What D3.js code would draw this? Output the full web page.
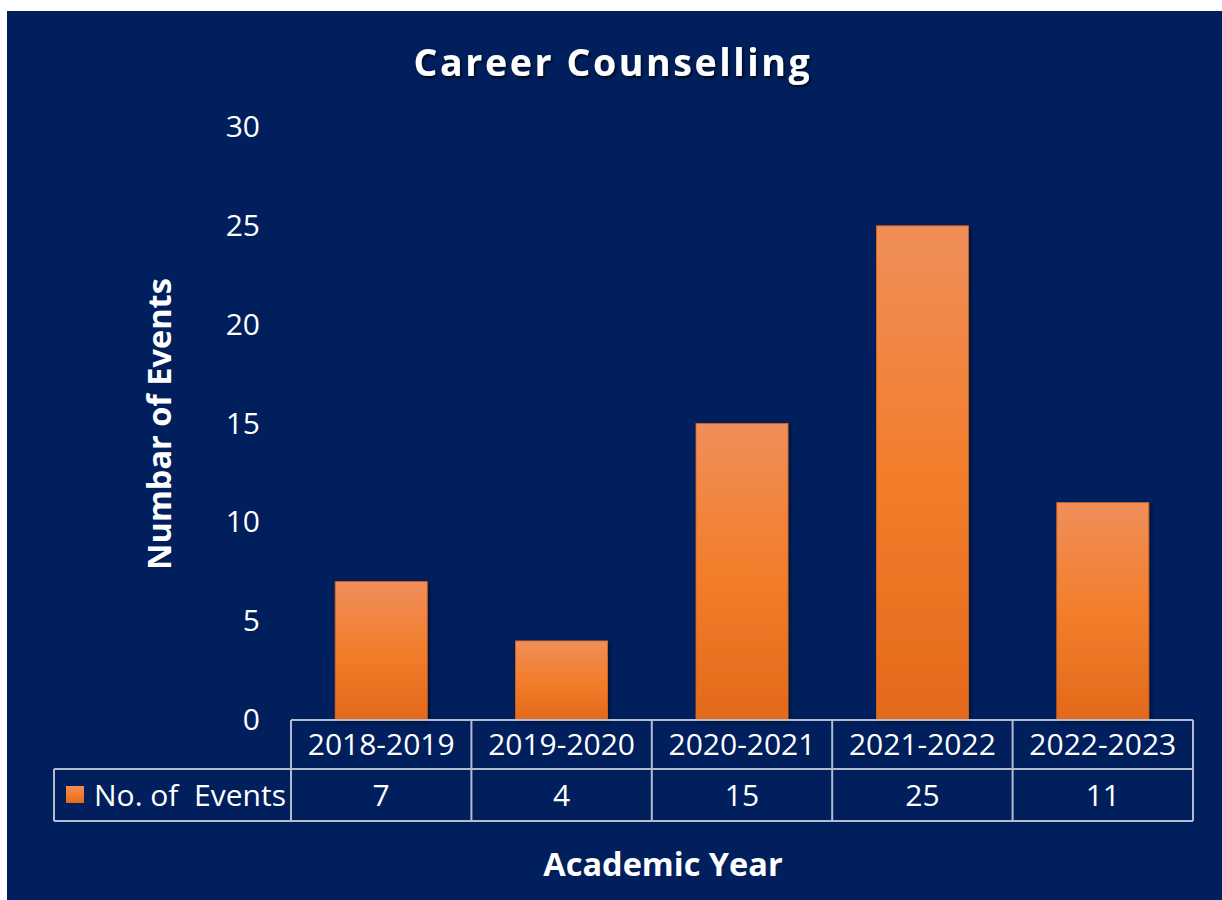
<!DOCTYPE html>
<html>
<head>
<meta charset="utf-8">
<script src="https://cdn.jsdelivr.net/npm/d3@7"></script>
<style>
  html, body { margin: 0; padding: 0; background: #ffffff; }
  svg { display: block; }
  text { font-family: "Open Sans", "Noto Sans", sans-serif; fill: #ffffff; }
</style>
</head>
<body>
<svg id="chart" width="1222" height="900"></svg>
<script>
// ---- data ----
const categories = ["2018-2019", "2019-2020", "2020-2021", "2021-2022", "2022-2023"];
const seriesName = "No. of  Events";
const values = [7, 4, 15, 25, 11];
const yTicks = [0, 5, 10, 15, 20, 25, 30];
const titleText = "Career Counselling";
const yTitle = "Numbar of Events";
const xTitle = "Academic Year";

// ---- layout ----
const svg = d3.select("#chart");
const plot = { left: 291, right: 1193, top: 127, bottom: 720 };
const rowH1 = 49, rowH2 = 52, legendLeft = 54;
const labelSize = 30;

const defs = svg.append("defs");
const grad = defs.append("linearGradient").attr("id", "barGrad")
  .attr("x1", 0).attr("y1", 0).attr("x2", 0).attr("y2", 1);
grad.append("stop").attr("offset", "0%").attr("stop-color", "#F08E5A");
grad.append("stop").attr("offset", "50%").attr("stop-color", "#F27E2C");
grad.append("stop").attr("offset", "100%").attr("stop-color", "#E3691A");

const shadow = defs.append("filter").attr("id", "shadow")
  .attr("x", "-20%").attr("y", "-20%").attr("width", "140%").attr("height", "140%");
shadow.append("feDropShadow").attr("dx", 2).attr("dy", 2).attr("stdDeviation", 2)
  .attr("flood-color", "#000000").attr("flood-opacity", 0.45);

const tshadow = defs.append("filter").attr("id", "tshadow")
  .attr("x", "-10%").attr("y", "-30%").attr("width", "120%").attr("height", "160%");
tshadow.append("feDropShadow").attr("dx", 1.5).attr("dy", 2).attr("stdDeviation", 1.2)
  .attr("flood-color", "#000000").attr("flood-opacity", 0.7);

// background
svg.append("rect").attr("x", 7).attr("y", 11).attr("width", 1222 - 7).attr("height", 900 - 11)
  .attr("fill", "#001F5C");

// scales
const x = d3.scaleBand().domain(categories).range([plot.left, plot.right])
  .paddingInner(0.49).paddingOuter(0.245);
const y = d3.scaleLinear().domain([0, 30]).range([plot.bottom, plot.top]);

// gridlines
const grid = svg.append("g").attr("transform", `translate(${plot.left},0)`)
  .call(d3.axisLeft(y).tickValues(yTicks.filter(d => d > 0)).tickSize(-(plot.right - plot.left)).tickFormat(""));
grid.select(".domain").remove();
grid.selectAll(".tick line").attr("stroke", "#ffffff").attr("stroke-width", 2.2)
  .attr("filter", "url(#shadow)");

// y tick labels
const yAxis = svg.append("g").attr("transform", `translate(260,0)`)
  .call(d3.axisLeft(y).tickValues(yTicks).tickSize(0).tickPadding(0));
yAxis.select(".domain").remove();
yAxis.selectAll(".tick text").attr("font-size", labelSize).attr("fill", "#ffffff")
  .attr("font-family", "'Open Sans', sans-serif");

// bars
svg.append("g").selectAll("rect").data(values).join("rect")
  .attr("x", (d, i) => x(categories[i]))
  .attr("width", x.bandwidth())
  .attr("y", d => y(d))
  .attr("height", d => y(0) - y(d))
  .attr("fill", "url(#barGrad)")
  .attr("stroke", "#D9661E").attr("stroke-width", 0.8)
  .attr("filter", "url(#shadow)");

// data table
const step = x.step();
const table = svg.append("g").attr("fill", "none").attr("stroke", "#B3BCCF").attr("stroke-width", 2);
const yTop = plot.bottom, yMid = plot.bottom + rowH1, yBot = plot.bottom + rowH1 + rowH2;
table.append("line").attr("x1", plot.left).attr("x2", plot.right).attr("y1", yTop).attr("y2", yTop);
table.append("line").attr("x1", legendLeft).attr("x2", plot.right).attr("y1", yMid).attr("y2", yMid);
table.append("line").attr("x1", legendLeft).attr("x2", plot.right).attr("y1", yBot).attr("y2", yBot);
table.append("line").attr("x1", legendLeft).attr("x2", legendLeft).attr("y1", yMid).attr("y2", yBot);
d3.range(categories.length + 1).forEach(i => {
  const xx = plot.left + i * step;
  table.append("line").attr("x1", xx).attr("x2", xx).attr("y1", yTop).attr("y2", yBot);
});

// header labels
svg.append("g").selectAll("text").data(categories).join("text")
  .attr("x", d => x(d) + x.bandwidth() / 2)
  .attr("y", yTop + rowH1 / 2)
  .attr("dy", "0.35em")
  .attr("text-anchor", "middle")
  .attr("font-size", labelSize)
  .text(d => d);

// value labels
svg.append("g").selectAll("text").data(values).join("text")
  .attr("x", (d, i) => x(categories[i]) + x.bandwidth() / 2)
  .attr("y", yMid + rowH2 / 2)
  .attr("dy", "0.35em")
  .attr("text-anchor", "middle")
  .attr("font-size", labelSize)
  .text(d => d);

// legend
svg.append("rect").attr("x", 66).attr("y", 786).attr("width", 18).attr("height", 17)
  .attr("fill", "url(#barGrad)");
svg.append("text").attr("x", 94).attr("y", yMid + rowH2 / 2).attr("dy", "0.35em")
  .attr("font-size", labelSize).style("white-space", "pre").attr("xml:space", "preserve")
  .text(seriesName);

// titles
svg.append("text").attr("x", 613).attr("y", 63).attr("dy", "0.35em")
  .attr("text-anchor", "middle").attr("font-size", 37.5).attr("font-weight", "bold")
  .attr("letter-spacing", 2.6).attr("filter", "url(#tshadow)")
  .text(titleText);

svg.append("text").attr("transform", "translate(160,424) rotate(-90)")
  .attr("dy", "0.35em").attr("text-anchor", "middle")
  .attr("font-size", 32.5).attr("font-weight", "bold")
  .text(yTitle);

svg.append("text").attr("x", 663).attr("y", 865).attr("dy", "0.35em")
  .attr("text-anchor", "middle").attr("font-size", 32.5).attr("font-weight", "bold")
  .text(xTitle);
</script>
</body>
</html>
